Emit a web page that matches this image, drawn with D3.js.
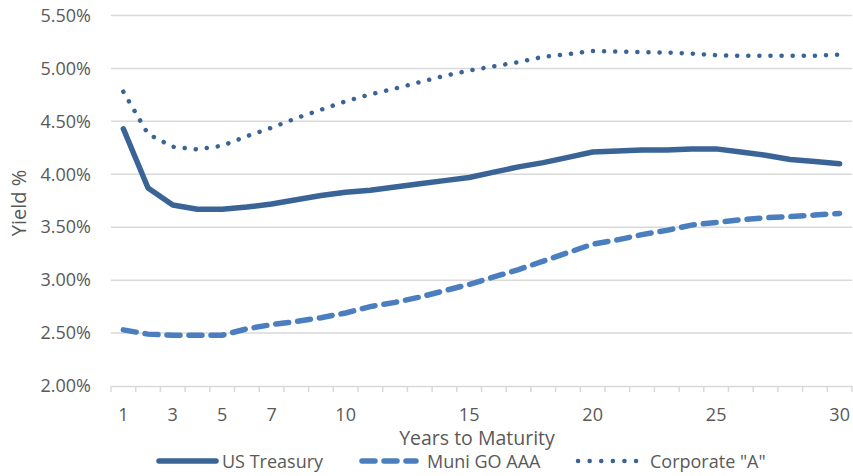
<!DOCTYPE html>
<html>
<head>
<meta charset="utf-8">
<script src="https://cdn.jsdelivr.net/npm/d3@7"></script>
<style>
  html, body { margin: 0; padding: 0; background: #fff; }
  svg { display: block; }
  text { font-family: "Open Sans", "Liberation Sans", sans-serif; fill: #595959; }
</style>
</head>
<body>
<svg id="chart" width="853" height="476"></svg>
<script>
const years = d3.range(1, 31);
const tickLabels = [1, 3, 5, 7, 10, 15, 20, 25, 30];
const yTicks = [2.0, 2.5, 3.0, 3.5, 4.0, 4.5, 5.0, 5.5];

const treasury = [4.43, 3.87, 3.71, 3.67, 3.67, 3.69, 3.72, 3.76, 3.80, 3.83,
                  3.85, 3.88, 3.91, 3.94, 3.97, 4.02, 4.07, 4.11, 4.16, 4.21,
                  4.22, 4.23, 4.23, 4.24, 4.24, 4.21, 4.18, 4.14, 4.12, 4.10];
const muni = [2.53, 2.49, 2.48, 2.48, 2.48, 2.54, 2.58, 2.61, 2.645, 2.69,
              2.75, 2.79, 2.84, 2.90, 2.96, 3.03, 3.10, 3.18, 3.26, 3.34,
              3.38, 3.43, 3.47, 3.52, 3.545, 3.57, 3.59, 3.60, 3.615, 3.63];
const corporate = [4.78, 4.38, 4.26, 4.235, 4.27, 4.36, 4.44, 4.53, 4.61, 4.69,
                   4.755, 4.81, 4.87, 4.93, 4.98, 5.02, 5.06, 5.11, 5.135, 5.165,
                   5.16, 5.155, 5.15, 5.14, 5.125, 5.12, 5.12, 5.12, 5.12, 5.13];

const seriesNames = ["US Treasury", "Muni GO AAA", "Corporate \"A\""];

const svg = d3.select("#chart");
const pLeft = 111, pRight = 852, pTop = 15.5, pBottom = 386;

const x = d3.scaleBand().domain(years).range([pLeft, pRight]);
const y = d3.scaleLinear().domain([2.0, 5.5]).range([pBottom, pTop]);

// gridlines
svg.append("g").selectAll("line").data(yTicks.slice(1)).join("line")
  .attr("x1", pLeft).attr("x2", pRight)
  .attr("y1", d => y(d)).attr("y2", d => y(d))
  .attr("stroke", "#d9d9d9").attr("stroke-width", 1.5);

// y axis labels
const yAxis = d3.axisLeft(y).tickValues(yTicks).tickSize(0).tickPadding(0)
  .tickFormat(d => d3.format(".2f")(d) + "%");
const gy = svg.append("g").attr("transform", `translate(${pLeft - 20},0)`).call(yAxis);
gy.select(".domain").remove();
gy.selectAll("text").style("font-size", "18px").attr("fill", "#595959")
  .style("font-family", "\"Open Sans\", sans-serif");

// x axis
const xAxis = d3.axisBottom(x).tickSize(0).tickFormat(d => tickLabels.includes(d) ? d : "");
const gx = svg.append("g").attr("transform", `translate(0,${pBottom})`).call(xAxis);
gx.select(".domain").attr("stroke", "#d9d9d9").attr("stroke-width", 1.5);
gx.selectAll(".tick line").remove();
gx.selectAll("text").attr("y", 35).attr("dy", 0).style("font-size", "18px")
  .attr("fill", "#595959").style("font-family", "\"Open Sans\", sans-serif");
// category boundary tick marks
const bounds = years.map(d => x(d)).concat([x(30) + x.bandwidth()]);
svg.append("g").selectAll("line").data(bounds).join("line")
  .attr("x1", d => d).attr("x2", d => d)
  .attr("y1", pBottom).attr("y2", pBottom + 6)
  .attr("stroke", "#d9d9d9").attr("stroke-width", 1.5);

// lines
const cx = d => x(d) + x.bandwidth() / 2;
const lineGen = vals => d3.line().x((d, i) => cx(years[i])).y(d => y(d))(vals);

svg.append("path").attr("d", lineGen(muni))
  .attr("fill", "none").attr("stroke", "#4a7ebf").attr("stroke-width", 5.5)
  .attr("stroke-dasharray", "13,9").attr("stroke-linecap", "round");
svg.append("path").attr("d", lineGen(corporate))
  .attr("fill", "none").attr("stroke", "#3b6496").attr("stroke-width", 4.5)
  .attr("stroke-dasharray", "0.1,11").attr("stroke-linecap", "round");
svg.append("path").attr("d", lineGen(treasury))
  .attr("fill", "none").attr("stroke", "#3b6496").attr("stroke-width", 5.5)
  .attr("stroke-linejoin", "round").attr("stroke-linecap", "round");

// axis titles
svg.append("text").attr("x", 477).attr("y", 445).attr("text-anchor", "middle")
  .style("font-size", "19.5px").text("Years to Maturity");
svg.append("text").attr("transform", "translate(26,203) rotate(-90)")
  .attr("text-anchor", "middle").style("font-size", "20px").text("Yield %");

// legend
const legend = [
  {name: seriesNames[0], x0: 159, x1: 216, tx: 222, stroke: "#3b6496", dash: null, w: 5.5},
  {name: seriesNames[1], x0: 362, x1: 416, tx: 427, stroke: "#4a7ebf", dash: "13,9", w: 5.5},
  {name: seriesNames[2], x0: 578, x1: 640, tx: 650, stroke: "#3b6496", dash: "0.1,11.5", w: 4.5}
];
const lg = svg.append("g").selectAll("g").data(legend).join("g");
lg.append("line").attr("x1", d => d.x0).attr("x2", d => d.x1)
  .attr("y1", 461).attr("y2", 461)
  .attr("stroke", d => d.stroke).attr("stroke-width", d => d.w)
  .attr("stroke-dasharray", d => d.dash).attr("stroke-linecap", "round");
lg.append("text").attr("x", d => d.tx).attr("y", 468)
  .style("font-size", "18px").text(d => d.name);
</script>
</body>
</html>
